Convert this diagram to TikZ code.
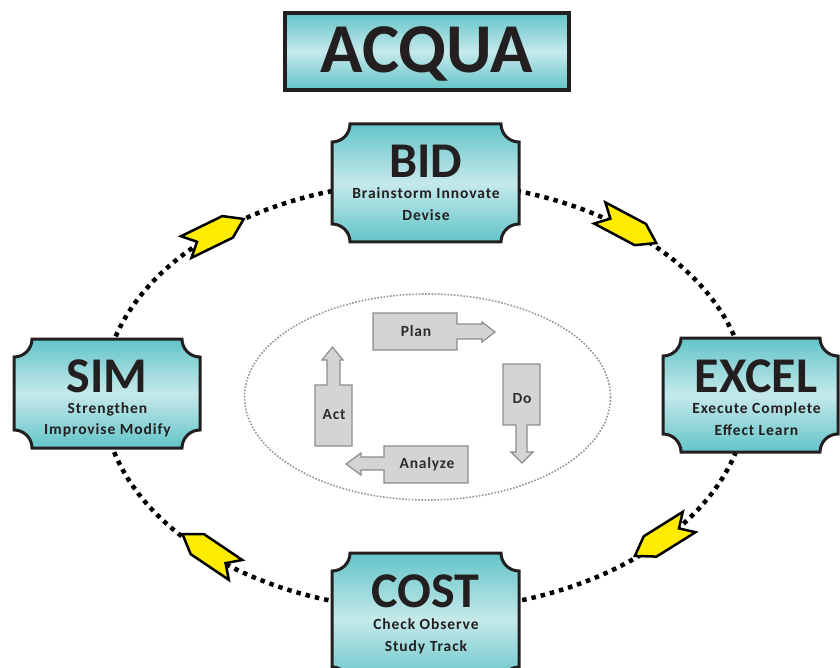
\documentclass[tikz,border=0pt]{standalone}
\usepackage{fontspec}
\setmainfont{Carlito}
\definecolor{tealtop}{RGB}{98,196,200}
\definecolor{tealmid}{RGB}{198,233,235}
\definecolor{ink}{RGB}{35,31,32}
\definecolor{yel}{RGB}{255,236,0}
\definecolor{pgfill}{RGB}{212,212,212}
\definecolor{pgline}{RGB}{140,140,140}
\definecolor{pgtext}{RGB}{45,45,45}
\definecolor{innerdot}{RGB}{150,150,150}
\newcommand\notchbox[5]{%
  \path[boxshade] (#1+#5,#2) -- (#3-#5,#2)
    arc[start angle=180,end angle=90,radius=#5] -- (#3,#4-#5)
    arc[start angle=270,end angle=180,radius=#5] -- (#1+#5,#4)
    arc[start angle=0,end angle=-90,radius=#5] -- (#1,#2+#5)
    arc[start angle=90,end angle=0,radius=#5] -- cycle;}
\newcommand\yelarrow[3]{%
  \draw[yarrowshape,shift={(#1,#2)},rotate=#3]
    (-32,12) -- (14,12) -- (32,0) -- (14,-12) -- (-32,-12) -- (-20,0) -- cycle;}
\begin{document}
\begin{tikzpicture}[x=1pt,y=-1pt,
  boxshade/.style={draw=ink,line width=3pt,line join=miter,top color=tealtop,bottom color=tealtop,middle color=tealmid},
  titlebox/.style={draw=ink,line width=3.5pt,top color=tealtop,bottom color=tealtop,middle color=tealmid},
  titletext/.style={font=\fontsize{70}{70}\selectfont\bfseries,text=ink,inner sep=0pt,anchor=base},
  bigtext/.style={font=\fontsize{50}{50}\selectfont\bfseries,text=ink,inner sep=0pt,anchor=base},
  subtext/.style={font=\fontsize{15.5}{18}\selectfont\bfseries\addfontfeature{LetterSpace=6},text=ink,inner sep=0pt,anchor=base},
  outerloop/.style={draw=black,line width=4.5pt,dash pattern=on 4.5pt off 5pt},
  innerloop/.style={draw=innerdot,line width=1.6pt,dash pattern=on 1.6pt off 1.6pt},
  yarrowshape/.style={fill=yel,draw=black,line width=2.5pt,line join=miter},
  pdca/.style={fill=pgfill,draw=pgline,line width=1.2pt},
  pdcatext/.style={font=\fontsize{15.5}{18}\selectfont\bfseries\addfontfeature{LetterSpace=5},text=pgtext,inner sep=0pt}]
\useasboundingbox (0,0) rectangle (840,668);
\fill[white] (0,0) rectangle (840,668);

% title
\path[titlebox] (285,13) rectangle (569,90);
\node[titletext] (acqua) at (427,73) {ACQUA};

% outer loop
\draw[outerloop] (425,396) ellipse [x radius=322, y radius=214];
\yelarrow{215}{233}{26}
\yelarrow{628}{228}{-28}
\yelarrow{662}{539}{212}
\yelarrow{209}{552}{146}

% inner loop
\draw[innerloop] (427.5,397) ellipse [x radius=183, y radius=103];

% PDCA blocks
\draw[pdca] (373,313) -- (457,313) -- (457,324) -- (482,324) -- (482,322) -- (495,332)
  -- (482,342) -- (482,339) -- (457,339) -- (457,350) -- (373,350) -- cycle;
\node[pdcatext] (plan) at (416,331.5) {Plan};
\draw[pdca] (503,364) -- (540,364) -- (540,425) -- (527,425) -- (527,452) -- (533,452)
  -- (522,463) -- (511,452) -- (516,452) -- (516,425) -- (503,425) -- cycle;
\node[pdcatext] (do) at (522,398.5) {Do};
\draw[pdca] (384,446) -- (468,446) -- (468,483) -- (384,483) -- (384,470) -- (361,470)
  -- (361,475) -- (346,464) -- (361,453) -- (361,457) -- (384,457) -- cycle;
\node[pdcatext] (analyze) at (427,464.5) {Analyze};
\draw[pdca] (315,385) -- (327,385) -- (327,360) -- (322,360) -- (332.5,347) -- (343,360)
  -- (340,360) -- (340,385) -- (352,385) -- (352,446) -- (315,446) -- cycle;
\node[pdcatext] (act) at (334,415) {Act};

% BID
\notchbox{332}{124}{519}{242}{18}
\node[bigtext] (bid) at (425.5,178) {BID};
\node[subtext] (bidA) at (426,199) {Brainstorm Innovate};
\node[subtext] (bidB) at (426,221) {Devise};

% SIM
\notchbox{14}{339}{200}{448}{18}
\node[bigtext] (sim) at (107,392) {SIM};
\node[subtext] (simA) at (107.5,413) {Strengthen};
\node[subtext] (simB) at (107.5,434) {Improvise Modify};

% EXCEL
\notchbox{663}{338}{838}{452}{18}
\node[bigtext] (excel) at (756,392) {EXCEL};
\node[subtext] (excelA) at (756.5,413) {Execute Complete};
\node[subtext] (excelB) at (756.5,435) {Effect Learn};

% COST
\notchbox{332}{553}{519}{685}{18}
\node[bigtext] (cost) at (425.5,607) {COST};
\node[subtext] (costA) at (426,629) {Check Observe};
\node[subtext] (costB) at (426,651) {Study Track};
\end{tikzpicture}
\end{document}
